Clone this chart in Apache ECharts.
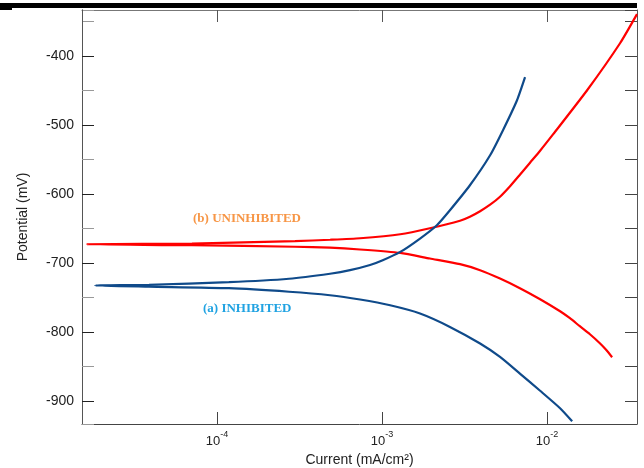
<!DOCTYPE html>
<html>
<head>
<meta charset="utf-8">
<script src="https://cdn.jsdelivr.net/npm/echarts@6/dist/echarts.min.js"></script>
<style>
html,body{margin:0;padding:0;background:#fff;}
#chart{width:644px;height:468px;}
</style>
</head>
<body>
<div id="chart"></div>
<script>
// ---- Data (current in mA/cm², potential in mV), ordered along each scan ----
const redCurrent = [2.48e-2, 2.28e-2, 2.09e-2, 1.82e-2, 1.58e-2, 1.377e-2, 1.20e-2, 9.08e-3, 6.85e-3, 5.19e-3, 3.93e-3, 2.97e-3, 1.95e-3, 1.29e-3, 7.36e-4, 4.84e-4, 2.97e-4, 7.05e-5, 1.63e-5,
                    7.05e-5, 2.97e-4, 4.84e-4, 7.36e-4, 1.29e-3, 1.95e-3, 2.97e-3, 3.41e-3, 3.93e-3, 4.52e-3, 5.19e-3, 5.97e-3, 6.85e-3, 7.89e-3, 9.08e-3, 1.09e-2, 1.75e-2, 2.77e-2, 3.51e-2];
const redPotential = [-836.2, -825.4, -815.9, -802.9, -791.3, -779.7, -769.6, -752.2, -736.2, -722.2, -710.1, -701.4, -693.2, -685.1, -680.1, -677.5, -676.1, -673.9, -672.5,
                      -671.5, -668.0, -666.0, -663.8, -658.0, -649.3, -638.4, -632.6, -624.6, -615.2, -603.6, -588.4, -571.7, -554.3, -537.0, -513.0, -449.3, -381.2, -339.0];

const blueCurrent = [1.42e-2, 1.20e-2, 9.08e-3, 6.85e-3, 5.19e-3, 3.93e-3, 2.58e-3, 1.70e-3, 1.12e-3, 7.36e-4, 4.84e-4, 2.73e-4, 1.18e-4, 3.87e-5, 1.82e-5,
                     3.87e-5, 1.18e-4, 2.73e-4, 4.84e-4, 6.40e-4, 8.46e-4, 1.01e-3, 1.29e-3, 1.70e-3, 2.15e-3, 2.58e-3, 3.41e-3, 4.52e-3, 5.41e-3, 6.58e-3, 7.36e-3];
const bluePotential = [-929.0, -910.1, -884.8, -859.9, -835.8, -816.4, -792.3, -772.9, -760.9, -752.6, -746.4, -741.3, -736.2, -734.0, -732.3,
                       -731.2, -727.5, -722.5, -715.2, -710.1, -702.6, -695.7, -683.6, -664.2, -644.9, -623.2, -587.0, -543.5, -507.2, -463.8, -430.4];

const xMin = 1.52e-5, xMax = 0.0351;
const yMin = -933, yMax = -333;
const labelA = '(a) INHIBITED';
const labelB = '(b) UNINHIBITED';
const xTitle = 'Current (mA/cm²)';
const yTitle = 'Potential (mV)';

function pairs(xs, ys) { return xs.map((x, i) => [x, ys[i]]); }

const chart = echarts.init(document.getElementById('chart'), null, {renderer: 'canvas'});
const SANS = '"Liberation Sans", Arial, sans-serif';
const SERIF = '"Liberation Serif", "Times New Roman", serif';

function xFmt(v) {
  const l = Math.log10(v);
  if (Math.abs(l - Math.round(l)) < 1e-6) return '{a|10}{b|' + Math.round(l) + '}';
  return '';
}

const option = {
  animation: false,
  backgroundColor: '#fff',
  grid: {left: 82, top: 10, right: 7, bottom: 44, containLabel: false, outerBoundsMode: 'none'},
  xAxis: [
    {
      type: 'log', logBase: 10, min: xMin, max: xMax, position: 'bottom',
      axisLine: {show: true, onZero: false, lineStyle: {color: '#444', width: 1}},
      axisTick: {show: true, inside: true, length: 12, lineStyle: {color: '#444'}},
      minorTick: {show: false}, splitLine: {show: false},
      axisLabel: {
        formatter: xFmt, showMinLabel: false, showMaxLabel: false, margin: 6,
        rich: {
          a: {fontFamily: SANS, fontSize: 13, color: '#222', lineHeight: 18, verticalAlign: 'bottom'},
          b: {fontFamily: SANS, fontSize: 9, color: '#222', lineHeight: 18, verticalAlign: 'top'}
        }
      },
      name: xTitle, nameLocation: 'middle', nameGap: 25,
      nameTextStyle: {fontFamily: SANS, fontSize: 14, color: '#222'}
    },
    {
      type: 'log', logBase: 10, min: xMin, max: xMax, position: 'top',
      axisLine: {show: true, onZero: false, lineStyle: {color: '#777', width: 1}},
      axisTick: {show: true, inside: true, length: 12, lineStyle: {color: '#555'}},
      minorTick: {show: false}, splitLine: {show: false}, axisLabel: {show: false}
    }
  ],
  yAxis: [
    {
      type: 'value', min: yMin, max: yMax, splitNumber: 12, position: 'left',
      axisLine: {show: true, lineStyle: {color: '#555', width: 1}},
      axisTick: {show: true, inside: true, length: 12, lineStyle: {color: '#999'}},
      axisLabel: {show: false}, splitLine: {show: false}
    },
    {
      type: 'value', min: yMin, max: yMax, splitNumber: 6, position: 'left',
      axisLine: {show: true, lineStyle: {color: '#555', width: 1}},
      axisTick: {show: true, inside: true, length: 12, lineStyle: {color: '#222'}},
      axisLabel: {
        formatter: v => (v % 100 === 0 ? String(v) : ''),
        showMinLabel: false, showMaxLabel: false, margin: 8,
        fontFamily: SANS, fontSize: 14, color: '#222'
      },
      splitLine: {show: false},
      name: yTitle, nameLocation: 'middle', nameGap: 52, nameRotate: 90,
      nameTextStyle: {fontFamily: SANS, fontSize: 14, color: '#222'}
    },
    {
      type: 'value', min: yMin, max: yMax, splitNumber: 12, position: 'right',
      axisLine: {show: true, lineStyle: {color: '#555', width: 1}},
      axisTick: {show: true, inside: true, length: 12, lineStyle: {color: '#444'}},
      axisLabel: {show: false}, splitLine: {show: false}
    }
  ],
  series: [
    {
      name: 'UNINHIBITED', type: 'line', xAxisIndex: 0, yAxisIndex: 0,
      data: pairs(redCurrent, redPotential), showSymbol: false, smooth: 0.2,
      lineStyle: {color: '#ff0000', width: 2.2}, z: 3
    },
    {
      name: 'INHIBITED', type: 'line', xAxisIndex: 0, yAxisIndex: 0,
      data: pairs(blueCurrent, bluePotential), showSymbol: false, smooth: 0.2,
      lineStyle: {color: '#0f4a8a', width: 2.2}, z: 4
    }
  ],
  graphic: [
    {type: 'rect', left: 0, top: 3, shape: {width: 637, height: 5}, style: {fill: '#000'}},
    {type: 'rect', left: 0, top: 8, shape: {width: 12, height: 2}, style: {fill: '#000'}},
    {type: 'text', left: 193, top: 212, style: {text: labelB, font: 'bold 13px ' + SERIF, fill: '#f79646'}},
    {type: 'text', left: 203, top: 302, style: {text: labelA, font: 'bold 13px ' + SERIF, fill: '#21a3e2'}}
  ]
};
chart.setOption(option);
</script>
</body>
</html>
